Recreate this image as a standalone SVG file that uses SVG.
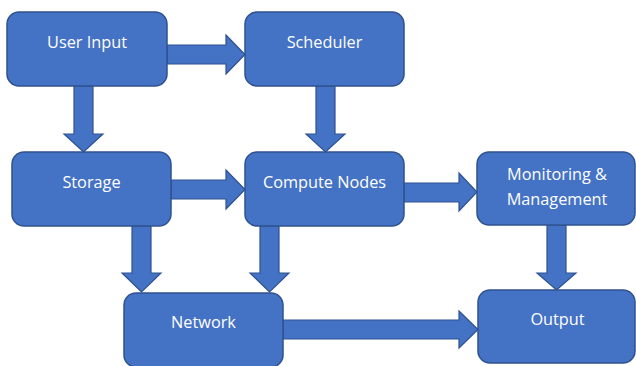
<svg xmlns="http://www.w3.org/2000/svg" width="636" height="366" viewBox="0 0 636 366">
<style>
.box{fill:#4472C4;stroke:#2F528F;stroke-width:1.5}
.arr{fill:#4472C4;stroke:#2F528F;stroke-width:1.2;stroke-linejoin:miter}
text{font-family:"Open Sans","Liberation Sans",sans-serif;font-size:16.3px;fill:#ffffff;text-anchor:middle}
</style>
<rect width="636" height="366" fill="#ffffff"/>
<g id="connectors">
<polygon class="arr" points="167,45 226,45 226,35 245,54.5 226,74 226,64 167,64"/>
<polygon class="arr" points="74,86 93,86 93,134 103,134 83.5,152 64,134 74,134"/>
<polygon class="arr" points="316,86 335,86 335,134 345,134 325.5,152 306,134 316,134"/>
<polygon class="arr" points="171,180 226,180 226,170 245,189.5 226,209 226,199 171,199"/>
<polygon class="arr" points="404,183 459,183 459,173 477,192 459,211 459,202 404,202"/>
<polygon class="arr" points="132,226 151,226 151,273 161,273 141.5,292 122,273 132,273"/>
<polygon class="arr" points="260,226 279,226 279,273 289,273 269.5,292 250,273 260,273"/>
<polygon class="arr" points="547,225 566,225 566,273 576,273 556.5,290 537,273 547,273"/>
<polygon class="arr" points="283,320 459,320 459,311 478,329.5 459,348 459,339 283,339"/>
</g>
<g id="user-input"><rect class="box" x="7" y="12" width="160" height="74" rx="12"/><text x="87" y="48">User Input</text></g>
<g id="scheduler"><rect class="box" x="245" y="12" width="159" height="74" rx="12"/><text x="324.5" y="48">Scheduler</text></g>
<g id="storage"><rect class="box" x="12" y="152" width="159" height="74" rx="12"/><text x="91.5" y="188">Storage</text></g>
<g id="compute-nodes"><rect class="box" x="245" y="152" width="159" height="74" rx="12"/><text x="324.5" y="188">Compute Nodes</text></g>
<g id="monitoring"><rect class="box" x="477" y="152" width="158" height="73" rx="12"/><text x="557" y="180">Monitoring &amp;</text><text x="557" y="205">Management</text></g>
<g id="network"><rect class="box" x="124" y="293" width="159" height="74" rx="12"/><text x="203.5" y="328">Network</text></g>
<g id="output"><rect class="box" x="478" y="290" width="157" height="73" rx="12"/><text x="557.5" y="325">Output</text></g>
</svg>
